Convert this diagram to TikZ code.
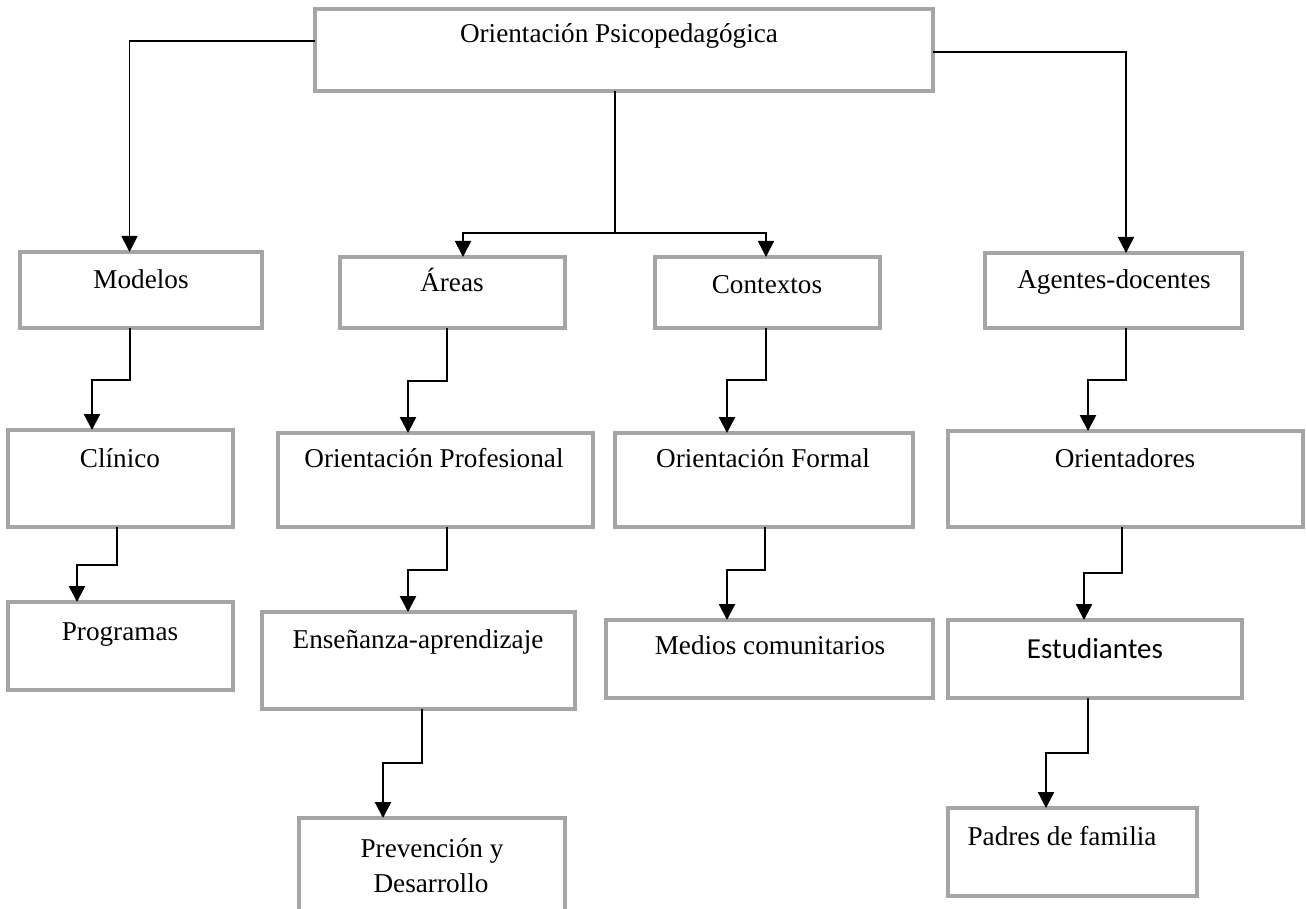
\documentclass[tikz,border=0pt]{standalone}
\usepackage{fontspec}
\setmainfont{Liberation Serif}
\newfontfamily\carlito{Carlito}
\usetikzlibrary{arrows.meta}
\definecolor{boxgray}{RGB}{165,165,165}
\tikzset{
 boxst/.style={draw=boxgray, line width=1.6pt, inner sep=0pt, outer sep=0pt, rectangle},
 txt/.style={anchor=base, inner sep=0pt, font=\fontsize{13.6}{16}\selectfont},
 link/.style={line width=1.2pt, draw=black},
 thinlink/.style={line width=0.85pt, draw=black},
 arr/.style={link, -{Triangle[length=8pt,width=8pt]}},
 thinarr/.style={thinlink, -{Triangle[length=8pt,width=8pt]}},
}
\newcommand\mybox[5]{\node[boxst, minimum width={(#4-#2)*0.5pt}, minimum height={(#5-#3)*0.5pt}] (#1) at ({(#2+#4)/2},{(#3+#5)/2}) {};}
\begin{document}
\begin{tikzpicture}[x=0.5pt,y=-0.5pt]
\useasboundingbox (0,0) rectangle (1306,909);
\clip (0,0) rectangle (1306,909);
% boxes
\mybox{root}{315}{9}{933}{91}
\mybox{modelos}{20}{252}{262}{328}
\mybox{areas}{340}{257}{565}{328}
\mybox{contextos}{655}{257}{880}{328}
\mybox{agentes}{985}{253}{1242}{328}
\mybox{clinico}{8}{430}{233}{527}
\mybox{oprof}{278}{433}{593}{527}
\mybox{oform}{615}{433}{913}{527}
\mybox{orient}{948}{431}{1303}{527}
\mybox{prog}{8}{602}{233}{690}
\mybox{ens}{262}{612}{575}{709}
\mybox{medios}{606}{620}{933}{698}
\mybox{est}{948}{620}{1242}{698}
\mybox{padres}{948}{808}{1197}{896}
\mybox{prev}{299}{818}{565}{960}
% texts
\node[txt] (t0) at (619,43) {Orientación Psicopedagógica};
\node[txt] (t1) at (141,288) {Modelos};
\node[txt] (t2) at (452,292) {Áreas};
\node[txt] (t3) at (767,293) {Contextos};
\node[txt] (t4) at (1114,288) {Agentes-docentes};
\node[txt] (t5) at (120,467) {Clínico};
\node[txt] (t6) at (434,467) {Orientación Profesional};
\node[txt] (t7) at (763,467) {Orientación Formal};
\node[txt] (t8) at (1125,467) {Orientadores};
\node[txt] (t9) at (120,640) {Programas};
\node[txt] (t10) at (418,648) {Enseñanza-aprendizaje};
\node[txt] (t11) at (770,654) {Medios comunitarios};
\node[txt, font=\carlito\fontsize{14.5}{17}\selectfont] (t12) at (1095,658) {Estudiantes};
\node[txt] (t13) at (1062,845) {Padres de familia};
\node[txt] (t14) at (432,857) {Prevención y};
\node[txt] (t15) at (431,892) {Desarrollo};
% top connectors
\draw[thinarr] ([yshift=4.5pt]root.west) -| ([xshift=-5.75pt]modelos.north);
\draw[thinarr] ([yshift=-1pt]root.east) -| ([xshift=6.25pt]agentes.north);
\coordinate (hub) at (615,233);
\draw[thinlink] ([xshift=-4.5pt]root.south) -- (hub);
\draw[thinarr] (hub) -| ([xshift=5.25pt]areas.north);
\draw[thinarr] (hub) -| ([xshift=-0.75pt]contextos.north);
% step connectors
\draw[arr] ([xshift=-5.5pt]modelos.south) -- ++(0,52) -| ([xshift=-14.25pt]clinico.north);
\draw[arr] ([xshift=-2.75pt]areas.south) -- ++(0,53) -| ([xshift=-13.75pt]oprof.north);
\draw[arr] ([xshift=-0.75pt]contextos.south) -- ++(0,52) -| ([xshift=-18.5pt]oform.north);
\draw[arr] ([xshift=6.25pt]agentes.south) -- ++(0,52) -| ([xshift=-18.75pt]orient.north);
\draw[arr] ([xshift=-1.75pt]clinico.south) -- ++(0,38) -| ([xshift=-21.75pt]prog.north);
\draw[arr] ([xshift=5.75pt]oprof.south) -- ++(0,43) -| ([xshift=-5.25pt]ens.north);
\draw[arr] ([xshift=0.5pt]oform.south) -- ++(0,43) -| ([xshift=-21.25pt]medios.north);
\draw[arr] ([xshift=-1.75pt]orient.south) -- ++(0,46) -| ([xshift=-5.5pt]est.north);
\draw[arr] ([xshift=1.75pt]ens.south) -- ++(0,54) -| ([xshift=-24.5pt]prev.north);
\draw[arr] ([xshift=-3.5pt]est.south) -- ++(0,55) -| ([xshift=-13.25pt]padres.north);
\end{tikzpicture}
\end{document}
